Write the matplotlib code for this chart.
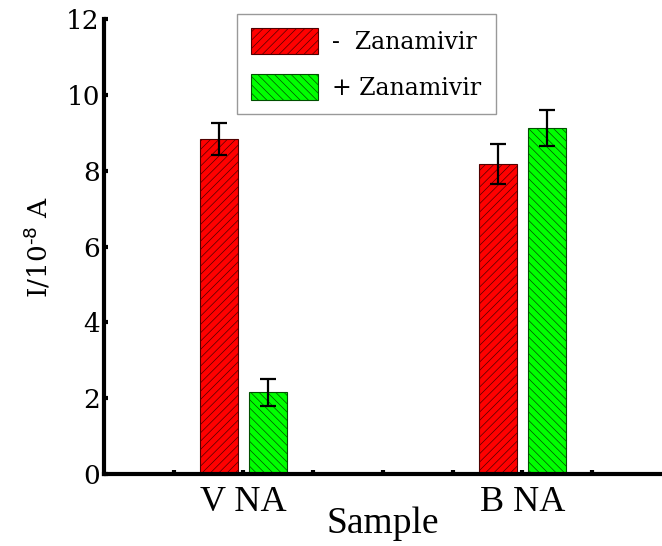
import matplotlib
matplotlib.use('Agg')
import matplotlib.pyplot as plt
import numpy as np

# data
samples = ['V NA', 'B NA']
group_pos = [1, 3]
minus_vals = [8.84, 8.17]
minus_err = [0.43, 0.53]
plus_vals = [2.15, 9.12]
plus_err = [0.36, 0.48]

plt.rcParams['hatch.linewidth'] = 0.5

fig = plt.figure(figsize=(6.62, 5.46), dpi=100)
ax = fig.add_axes([0.157, 0.132, 0.843, 0.833])

w = 0.27
off = 0.175
x = np.array(group_pos)

plt.rcParams['hatch.color'] = '#700000'
b1 = ax.bar(x - off, minus_vals, w, color='#ff0000', edgecolor='#500000',
            linewidth=0.8, hatch='////', label='-  Zanamivir', zorder=2)
ax.errorbar(x - off, minus_vals, yerr=minus_err, fmt='none', ecolor='black',
            elinewidth=1.6, capsize=6, capthick=1.6, zorder=3)
plt.rcParams['hatch.color'] = '#006000'
b2 = ax.bar(x + off, plus_vals, w, color='#00ff00', edgecolor='#005000',
            linewidth=0.8, hatch='\\\\\\\\', label='+ Zanamivir', zorder=2)
ax.errorbar(x + off, plus_vals, yerr=plus_err, fmt='none', ecolor='black',
            elinewidth=1.6, capsize=6, capthick=1.6, zorder=3)

ax.set_xlim(0, 4)
ax.set_ylim(0, 12)
ax.spines['top'].set_visible(False)
ax.spines['right'].set_visible(False)
ax.spines['left'].set_linewidth(3)
ax.spines['bottom'].set_linewidth(3)

xt = np.arange(0.5, 4.0, 0.5)
ax.set_xticks(xt)
ax.set_xticklabels([samples[0] if v == 1 else samples[1] if v == 3 else '' for v in xt],
                   fontfamily='Liberation Serif', fontsize=26)
ax.set_yticks(range(0, 13, 2))
ax.set_yticklabels([str(v) for v in range(0, 13, 2)], fontfamily='DejaVu Serif', fontsize=19)
ax.tick_params(axis='both', direction='in', length=3, width=3, pad=3)
ax.tick_params(axis='x', pad=9)

ax.set_xlabel('Sample', fontfamily='Liberation Serif', fontsize=27, labelpad=-9)
ax.set_ylabel('I/10$^{\u2010 8}$ A', fontfamily='DejaVu Serif', fontsize=19, labelpad=10)

leg = ax.legend(loc='upper left', bbox_to_anchor=(0.238, 1.011), borderaxespad=0,
                prop={'family': 'DejaVu Serif', 'size': 17},
                handlelength=2.85, handleheight=1.3, handletextpad=0.6, labelspacing=0.85,
                fancybox=False, edgecolor='#999999', framealpha=1, borderpad=0.6)
leg.get_frame().set_linewidth(1.0)

fig.savefig('out.png', dpi=100)
